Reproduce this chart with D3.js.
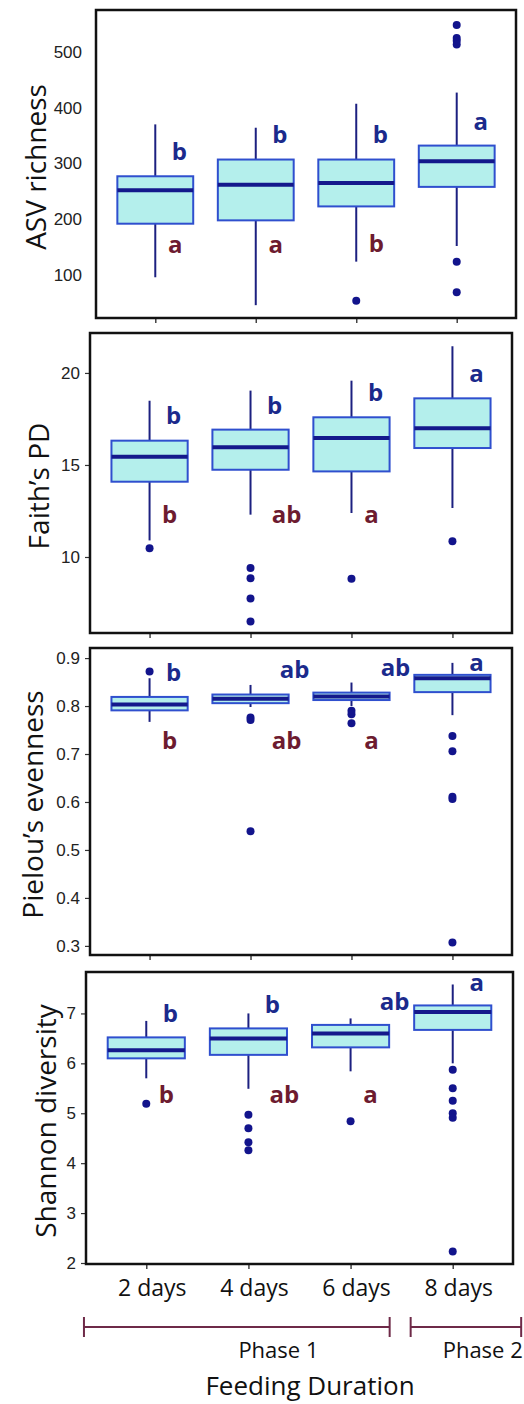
<!DOCTYPE html>
<html>
<head>
<meta charset="utf-8">
<script src="https://cdn.jsdelivr.net/npm/d3@7"></script>
<style>
  body { margin: 0; background: #fff; }
  svg { display: block; font-family: "Open Sans", sans-serif; }
</style>
</head>
<body>
<div id="chart"></div>
<script>
// categories
const days = ["2 days", "4 days", "6 days", "8 days"];

// box stats per group: [low whisker, q1, median, q3, high whisker]
const asvBoxes = [[96, 192, 252, 277, 370], [46, 198, 262, 307, 364], [124, 223, 265, 307, 407], [152, 258, 304, 332, 427]];
const asvOutliers = [[], [], [54], [548, 525, 520, 513, 124, 69]];
const asvTicks = [100, 200, 300, 400, 500];
const asvUpper = ["b", "b", "b", "a"];
const asvUpperAt = [323, 354, 354, 377];
const asvLower = ["a", "a", "b", ""];
const asvLowerAt = [157, 157, 158, null];

const pdBoxes = [[10.9, 14.09, 15.45, 16.32, 18.49], [12.3, 14.74, 15.96, 16.92, 19.04], [12.39, 14.65, 16.47, 17.59, 19.58], [12.66, 15.92, 17.0, 18.62, 21.45]];
const pdOutliers = [[10.47], [9.4, 8.84, 7.75, 6.5], [8.82], [10.86]];
const pdTicks = [10, 15, 20];
const pdUpper = ["b", "b", "b", "a"];
const pdUpperAt = [17.74, 18.28, 18.98, 20.02];
const pdLower = ["b", "ab", "a", ""];
const pdLowerAt = [12.39, 12.39, 12.39, null];

const evBoxes = [[0.767, 0.791, 0.803, 0.819, 0.858], [0.798, 0.806, 0.815, 0.824, 0.844], [0.80, 0.8125, 0.820, 0.828, 0.849], [0.781, 0.829, 0.858, 0.865, 0.890]];
const evOutliers = [[0.872], [0.776, 0.771, 0.539], [0.790, 0.783, 0.764], [0.7375, 0.706, 0.611, 0.606, 0.307]];
const evTicks = [0.3, 0.4, 0.5, 0.6, 0.7, 0.8, 0.9];
const evUpper = ["b", "ab", "ab", "a"];
const evUpperAt = [0.872, 0.879, 0.883, 0.893];
const evLower = ["b", "ab", "a", ""];
const evLowerAt = [0.731, 0.731, 0.731, null];

const shBoxes = [[5.70, 6.10, 6.26, 6.52, 6.85], [5.49, 6.17, 6.50, 6.70, 7.0], [5.84, 6.32, 6.60, 6.77, 6.90], [6.0, 6.67, 7.03, 7.16, 7.58]];
const shOutliers = [[5.19], [4.97, 4.70, 4.42, 4.26], [4.84], [5.87, 5.50, 5.25, 5.0, 4.91, 2.23]];
const shTicks = [2, 3, 4, 5, 6, 7];
const shUpper = ["b", "b", "ab", "a"];
const shUpperAt = [7.01, 7.20, 7.26, 7.64];
const shLower = ["b", "ab", "a", ""];
const shLowerAt = [5.40, 5.40, 5.40, null];

const phaseNames = ["Phase 1", "Phase 2"];
const phaseDays = [["2 days", "6 days"], ["8 days", "8 days"]];

const panels = [
  {title: "ASV richness", boxes: asvBoxes, outliers: asvOutliers, ticks: asvTicks, fmt: d3.format("d"),
   upper: asvUpper, upperAt: asvUpperAt, lower: asvLower, lowerAt: asvLowerAt,
   domain: [23, 575], frame: {l: 96, t: 10, r: 516, b: 318}, titleX: 35, tickSize: 0, tickPad: 14},
  {title: "Faith\u2019s PD", boxes: pdBoxes, outliers: pdOutliers, ticks: pdTicks, fmt: d3.format("d"),
   upper: pdUpper, upperAt: pdUpperAt, lower: pdLower, lowerAt: pdLowerAt,
   domain: [5.87, 22.17], frame: {l: 90, t: 333, r: 512, b: 633}, titleX: 38, tickSize: 5, tickPad: 5},
  {title: "Pielou\u2019s evenness", boxes: evBoxes, outliers: evOutliers, ticks: evTicks, fmt: d3.format(".1f"),
   upper: evUpper, upperAt: evUpperAt, lower: evLower, lowerAt: evLowerAt,
   domain: [0.281, 0.921], frame: {l: 90, t: 648, r: 512, b: 955}, titleX: 32, tickSize: 5, tickPad: 5},
  {title: "Shannon diversity", boxes: shBoxes, outliers: shOutliers, ticks: shTicks, fmt: d3.format("d"),
   upper: shUpper, upperAt: shUpperAt, lower: shLower, lowerAt: shLowerAt,
   domain: [1.98, 7.83], frame: {l: 86, t: 972, r: 513, b: 1264}, titleX: 45, tickSize: 5, tickPad: 5}
];

const W = 524, H = 1404;
const blue = "#1b2a8c", maroon = "#6d1b30";

const svg = d3.select("#chart").append("svg")
    .attr("width", W)
    .attr("height", H);

let lastX;

panels.forEach((p, pi) => {
  const f = p.frame;
  const x = d3.scalePoint().domain(days).range([f.l, f.r]).padding(0.59);
  const y = d3.scaleLinear().domain(p.domain).range([f.b, f.t]);
  const bw = x.step() * 0.755;
  lastX = x;

  const g = svg.append("g");

  // y axis
  g.append("g")
      .attr("transform", `translate(${f.l},0)`)
      .call(d3.axisLeft(y).tickValues(p.ticks).tickFormat(p.fmt).tickSize(p.tickSize).tickPadding(p.tickPad))
      .call(a => a.select(".domain").remove())
      .call(a => a.selectAll("line").attr("stroke", "#333").attr("stroke-width", 1.2))
      .call(a => a.selectAll("text").attr("fill", "#222").style("font-size", "17px"));

  // x ticks below frame
  g.append("g")
      .attr("transform", `translate(0,${f.b})`)
      .call(d3.axisBottom(x).tickSize(5).tickFormat(""))
      .call(a => a.select(".domain").remove())
      .call(a => a.selectAll("line").attr("stroke", "#444").attr("stroke-width", 1.5));

  // y title
  g.append("text")
      .attr("transform", `translate(${p.titleX},${(f.t + f.b) / 2 + 3}) rotate(-90)`)
      .attr("text-anchor", "middle")
      .attr("dominant-baseline", "central")
      .style("font-size", "28px")
      .attr("fill", "#111")
      .text(p.title);

  const groups = g.selectAll("g.box")
    .data(days)
    .join("g")
      .attr("class", "box");

  // whiskers
  groups.append("line")
      .attr("x1", d => x(d)).attr("x2", d => x(d))
      .attr("y1", (d, i) => y(p.boxes[i][0]))
      .attr("y2", (d, i) => y(p.boxes[i][4]))
      .attr("stroke", "#1c2080")
      .attr("stroke-width", 2);

  // box
  groups.append("rect")
      .attr("x", d => x(d) - bw / 2)
      .attr("width", bw)
      .attr("y", (d, i) => y(p.boxes[i][3]))
      .attr("height", (d, i) => y(p.boxes[i][1]) - y(p.boxes[i][3]))
      .attr("fill", "#b4efec")
      .attr("stroke", "#2f4fce")
      .attr("stroke-width", 2);

  // median
  groups.append("line")
      .attr("x1", d => x(d) - bw / 2).attr("x2", d => x(d) + bw / 2)
      .attr("y1", (d, i) => y(p.boxes[i][2]))
      .attr("y2", (d, i) => y(p.boxes[i][2]))
      .attr("stroke", "#14198c")
      .attr("stroke-width", 4);

  // outliers
  groups.selectAll("circle")
    .data((d, i) => p.outliers[i].map(v => ({day: d, v: v})))
    .join("circle")
      .attr("cx", o => x(o.day))
      .attr("cy", o => y(o.v))
      .attr("r", 4)
      .attr("fill", "#12148c");

  // significance letters
  groups.append("text")
      .attr("x", (d, i) => x(d) + 24 + (p.upper[i].length - 1) * 20)
      .attr("y", (d, i) => y(p.upperAt[i]))
      .attr("text-anchor", "middle")
      .attr("dominant-baseline", "central")
      .style("font-size", "24px")
      .style("font-weight", "bold")
      .attr("fill", blue)
      .text((d, i) => p.upper[i]);

  groups.filter((d, i) => p.lower[i] !== "")
    .append("text")
      .attr("x", d => { const i = days.indexOf(d); return x(d) + 20 + (p.lower[i].length - 1) * 16; })
      .attr("y", d => y(p.lowerAt[days.indexOf(d)]))
      .attr("text-anchor", "middle")
      .attr("dominant-baseline", "central")
      .style("font-size", "24px")
      .style("font-weight", "bold")
      .attr("fill", maroon)
      .text(d => p.lower[days.indexOf(d)]);

  // frame
  g.append("rect")
      .attr("x", f.l).attr("y", f.t)
      .attr("width", f.r - f.l).attr("height", f.b - f.t)
      .attr("fill", "none")
      .attr("stroke", "#111")
      .attr("stroke-width", 2.5);
});

// bottom category labels
const bottom = panels[panels.length - 1].frame;
svg.append("g")
  .selectAll("text")
  .data(days)
  .join("text")
    .attr("x", d => lastX(d) + 6)
    .attr("y", bottom.b + 23)
    .attr("text-anchor", "middle")
    .attr("dominant-baseline", "central")
    .style("font-size", "23px")
    .attr("fill", "#111")
    .text(d => d);

// phase brackets
const step = lastX.step();
const phaseY = 1327;
const phases = phaseNames.map((name, i) => {
  const a = lastX(phaseDays[i][0]), b = lastX(phaseDays[i][1]);
  const x1 = i === 0 ? a - step * 0.61 : a - step / 2 + 9;
  const x2 = i === phaseNames.length - 1 ? b + step * 0.67 : b + step / 2 - 12;
  const inPhase = days.filter(d => days.indexOf(d) >= days.indexOf(phaseDays[i][0]) && days.indexOf(d) <= days.indexOf(phaseDays[i][1]));
  const mid = d3.mean(inPhase, d => lastX(d));
  return {name, x1, x2, mid};
});

const pg = svg.append("g")
  .selectAll("g")
  .data(phases)
  .join("g");

pg.append("line")
    .attr("x1", d => d.x1).attr("x2", d => d.x2)
    .attr("y1", phaseY).attr("y2", phaseY)
    .attr("stroke", "#6e2a48").attr("stroke-width", 2);
pg.append("line")
    .attr("x1", d => d.x1).attr("x2", d => d.x1)
    .attr("y1", phaseY - 10).attr("y2", phaseY + 10)
    .attr("stroke", "#6e2a48").attr("stroke-width", 2);
pg.append("line")
    .attr("x1", d => d.x2).attr("x2", d => d.x2)
    .attr("y1", phaseY - 10).attr("y2", phaseY + 10)
    .attr("stroke", "#6e2a48").attr("stroke-width", 2);
pg.append("text")
    .attr("x", d => d.mid + 30)
    .attr("y", phaseY + 22)
    .attr("text-anchor", "middle")
    .attr("dominant-baseline", "central")
    .style("font-size", "22px")
    .attr("fill", "#111")
    .text(d => d.name);

svg.append("text")
    .attr("x", 310)
    .attr("y", 1385)
    .attr("text-anchor", "middle")
    .attr("dominant-baseline", "central")
    .style("font-size", "26px")
    .attr("fill", "#111")
    .text("Feeding Duration");
</script>
</body>
</html>
